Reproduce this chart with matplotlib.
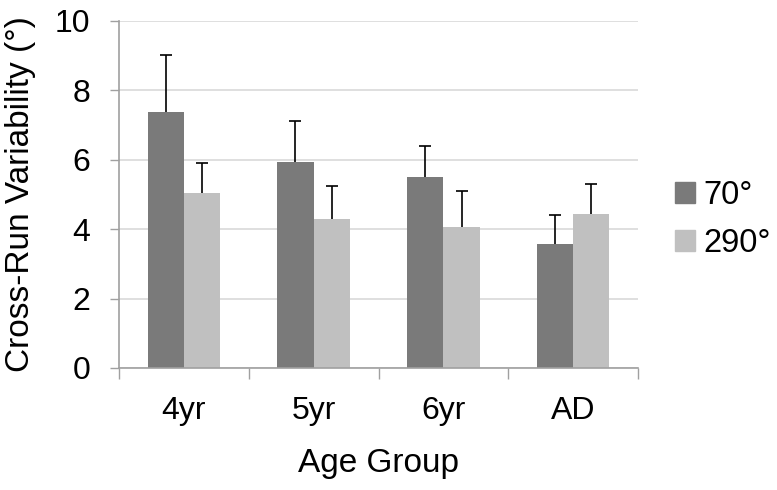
import numpy as np
import matplotlib
matplotlib.use('Agg')
import matplotlib.pyplot as plt
from matplotlib.patches import Patch

plt.rcParams['font.family'] = ['Liberation Sans', 'DejaVu Sans']

groups = ['4yr', '5yr', '6yr', 'AD']
series_names = ['70°', '290°']
means_70 = [7.36, 5.92, 5.51, 3.56]
means_290 = [5.05, 4.30, 4.07, 4.42]
err_70 = [1.66, 1.20, 0.89, 0.85]
err_290 = [0.85, 0.93, 1.02, 0.89]

dark = '#7a7a7a'
light = '#c0c0c0'
axis_grey = '#a0a0a0'

fig = plt.figure(figsize=(7.77, 4.90), dpi=100)
ax = fig.add_axes([0.1532, 0.249, 0.6679, 0.7088])

x = np.arange(len(groups))
w = 0.28
ekw = dict(ecolor='black', elinewidth=1.2, capsize=4, capthick=1.2)
b1 = ax.bar(x - w / 2, means_70, w, color=dark, zorder=2,
            yerr=[np.zeros(len(groups)), err_70], error_kw=ekw)
b2 = ax.bar(x + w / 2, means_290, w, color=light, zorder=2,
            yerr=[np.zeros(len(groups)), err_290], error_kw=ekw)
# only the "plus" side of the error bars, like the original
for b in (b1, b2):
    caps = b.errorbar.lines[1]
    caps[0].set_visible(False)

ax.set_xlim(-0.5, len(groups) - 0.5)
ax.set_ylim(0, 10)
ax.set_yticks(np.arange(0, 11, 2))
ax.yaxis.grid(True, color='#d9d9d9', linewidth=1.2, zorder=0)
ax.set_axisbelow(True)

ax.set_xticks(x)
ax.set_xticklabels(groups, fontsize=23)
ax.tick_params(axis='x', length=0, pad=20)
ax.set_xticks(np.arange(-0.5, len(groups)), minor=True)
ax.tick_params(axis='x', which='minor', length=8, width=1, color=axis_grey)
ax.tick_params(axis='y', labelsize=23, length=6.5, width=1, color=axis_grey, pad=14)

for s in ['top', 'right']:
    ax.spines[s].set_visible(False)
for s in ['left', 'bottom']:
    ax.spines[s].set_color(axis_grey)
    ax.spines[s].set_linewidth(1.2)

ax.set_xlabel('Age Group', fontsize=24, labelpad=16)
ax.set_ylabel('Cross-Run Variability (°)', fontsize=24, labelpad=14)

handles = [Patch(color=dark), Patch(color=light)]
fig.legend(handles, series_names, loc='center left', bbox_to_anchor=(0.848, 0.552),
           frameon=False, fontsize=23.5, handlelength=0.6, handleheight=0.6,
           handletextpad=0.25, labelspacing=0.5, borderpad=0)

fig.savefig('out.png', dpi=100)
